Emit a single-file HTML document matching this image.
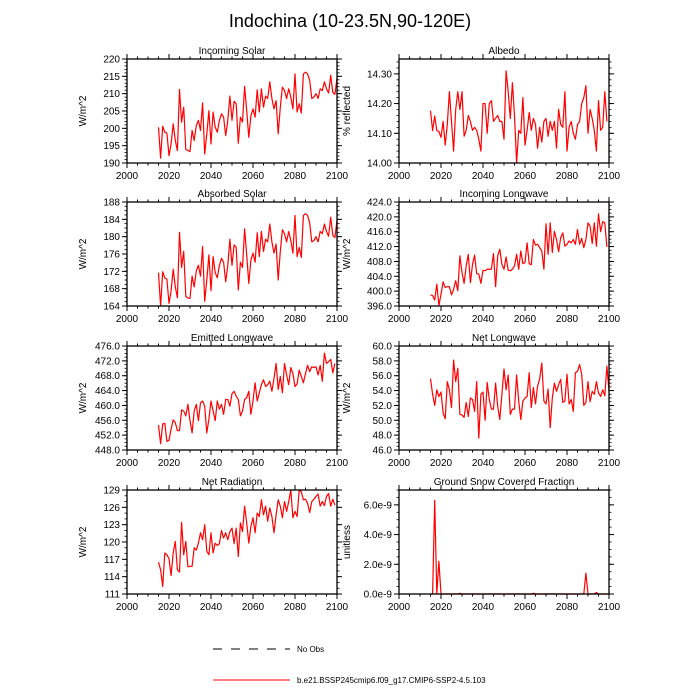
<!DOCTYPE html>
<html><head><meta charset="utf-8">
<style>
html,body{margin:0;padding:0;background:#fff;}
svg{display:block;font-family:"Liberation Sans",Arial,sans-serif;}
</style></head>
<body>
<svg id="chart" width="700" height="700" viewBox="0 0 700 700" xmlns="http://www.w3.org/2000/svg">
<text x="350" y="27" text-anchor="middle" font-size="18">Indochina (10-23.5N,90-120E)</text>
<g>
<line x1="213" y1="649" x2="290" y2="649" stroke="#000" stroke-width="1" stroke-dasharray="9,9"/>
<text x="297" y="652" font-size="8">No Obs</text>
<line x1="213" y1="680" x2="290" y2="680" stroke="#f00" stroke-width="1"/>
<text x="297" y="683" font-size="8">b.e21.BSSP245cmip6.f09_g17.CMIP6-SSP2-4.5.103</text>
</g>
</svg>
<script>
const startYear = 2015;
const xTicks = [2000,2020,2040,2060,2080,2100];
const incomingSolar = [200.3,191.4,200.6,198.9,198.6,192.1,195.5,201.3,196.5,193.6,211.2,201.8,206.1,193.9,193.6,193.3,199.4,196.5,200.8,202.3,199.4,207.3,192.6,198.4,205.1,195.5,204.7,200.3,198.9,202.3,204.2,203.2,197.9,202.3,209.3,202.3,207.8,207.1,195.7,203.2,201.8,212.1,205.1,197.4,203.7,205.6,203.2,211.1,204.7,211.4,206.1,209.3,208.6,213.4,208.6,205.6,208.0,198.4,206.1,211.9,210.9,208.6,211.4,209.0,205.6,215.7,204.7,207.1,204.4,215.7,216.2,215.7,213.8,208.6,209.0,210.0,208.6,211.4,210.9,213.4,211.4,210.2,215.3,210.4,209.8,214.5];
const albedo = [14.176,14.109,14.158,14.109,14.106,14.086,14.14,14.06,14.13,14.24,14.14,14.04,14.18,14.24,14.18,14.24,14.09,14.11,14.16,14.14,14.11,14.12,14.11,14.08,14.04,14.20,14.20,14.10,14.20,14.21,14.14,14.15,14.16,14.14,14.14,14.08,14.31,14.24,14.15,14.27,14.16,14.00,14.11,14.10,14.22,14.06,14.11,14.17,14.11,14.15,14.13,14.05,14.12,14.07,14.14,14.15,14.09,14.14,14.11,14.14,14.05,14.18,14.13,14.12,14.24,14.04,14.12,14.14,14.10,14.08,14.13,14.14,14.20,14.22,14.26,14.10,14.18,14.15,14.11,14.04,14.21,14.11,14.12,14.24,14.14];
const absorbedSolar = [171.7,164.0,171.9,170.5,170.2,164.6,167.5,172.5,168.4,165.9,181.0,172.9,176.6,166.2,165.9,165.7,170.9,168.4,172.1,173.4,170.9,177.7,165.1,170.0,175.8,167.5,175.4,171.7,170.5,173.4,175.0,174.1,169.6,173.4,179.4,173.4,178.1,177.5,167.7,174.1,172.9,181.8,175.8,169.2,174.6,176.2,174.1,180.9,175.4,181.2,176.6,179.4,178.8,182.9,178.8,176.2,178.3,170.0,176.6,181.6,180.7,178.8,181.2,179.1,176.2,184.9,175.4,177.5,175.2,184.9,185.3,184.9,183.2,178.8,179.1,180.0,178.8,181.2,180.7,182.9,181.2,180.1,184.5,180.3,179.8,183.8];
const incomingLW = [399.0,398.8,397.6,401.9,396.1,399.2,402.5,401.0,401.2,401.2,399.0,400.5,402.8,400.1,409.5,405.0,402.1,406.8,409.9,402.3,407.2,409.7,404.7,404.6,402.1,405.6,405.5,405.9,405.9,405.9,410.1,401.2,409.5,411.3,407.2,405.9,409.2,405.6,405.5,405.9,406.8,409.9,405.9,410.8,407.4,407.7,413.0,407.4,407.1,413.9,412.4,412.6,411.7,410.8,405.9,418.1,409.9,418.4,410.4,416.1,413.9,410.6,414.4,415.7,412.1,412.6,413.5,413.0,413.9,412.6,416.6,412.6,414.2,411.7,413.9,418.4,417.5,412.8,418.4,412.1,420.8,416.0,418.7,418.4,411.9];
const emittedLW = [454.7,449.7,455.0,455.2,450.3,450.6,453.7,456.1,455.4,453.2,453.2,458.8,458.5,457.2,460.3,455.9,452.6,458.5,460.3,455.9,460.7,461.2,459.8,452.6,456.3,461.2,458.5,455.9,461.2,459.0,460.3,457.6,461.6,461.6,459.8,463.2,463.8,462.5,461.6,457.2,458.5,461.6,462.1,463.8,457.6,461.2,466.1,461.2,463.4,465.6,466.9,465.1,465.6,466.5,463.8,467.3,471.3,464.3,467.8,463.4,471.3,468.2,465.6,470.2,468.6,465.1,465.8,469.5,467.8,466.1,468.6,470.8,469.1,470.4,470.2,470.4,468.2,470.8,466.5,474.1,471.3,471.8,472.4,468.8,471.3];
const netLW = [55.6,53.5,52.0,54.1,53.2,53.8,51.0,50.2,55.2,54.1,51.7,58.1,55.2,57.0,50.8,50.7,50.4,52.4,50.5,53.0,52.8,51.2,55.2,47.6,53.5,53.8,50.0,55.1,52.8,51.5,51.5,55.0,51.9,50.1,53.5,56.9,54.1,56.1,50.8,51.5,51.5,56.1,52.6,50.1,52.6,53.0,53.2,56.4,51.7,54.4,52.2,54.6,55.6,57.7,52.6,52.2,54.2,49.0,53.0,55.0,53.9,54.8,55.5,52.4,52.6,56.2,52.2,52.8,51.2,56.4,56.6,57.5,56.2,52.0,52.4,55.2,52.5,53.9,53.5,55.2,53.7,53.2,54.1,53.3,57.3,53.9];
const netRadiation = [116.5,115.2,112.3,118.1,117.8,117.1,114.2,118.1,120.1,115.2,114.8,123.4,117.8,120.1,115.7,115.8,115.8,119.0,118.6,119.8,121.6,120.4,123.0,118.4,117.8,121.6,118.1,119.8,119.4,119.7,122.0,120.7,121.6,120.4,121.8,122.4,119.7,122.4,117.5,123.3,121.8,126.2,123.3,119.8,122.7,124.2,121.6,125.0,124.4,127.3,124.7,126.2,123.6,125.9,124.4,121.6,124.7,127.3,126.2,124.2,127.0,125.3,127.0,129.0,124.2,125.3,124.4,129.0,128.7,127.3,127.4,126.7,125.1,127.0,127.4,127.9,128.3,126.2,127.0,126.3,127.9,128.4,126.2,127.4,126.4];
const snowFraction = [0,0,6.3e-9,0,2.2e-9,0,0,0,0,0,0,0,0,0,0.05e-9,0,0,0,0,0,0,0,0,0,0,0,0,0,0,0,0,0,0,0,0,0,0,0,0,0,0,0,0,0,0,0,0,0,0,0.05e-9,0,0,0,0,0,0,0,0,0,0,0,0,0,0,0,0,0,0,0,0,0,0,0,0,1.4e-9,0,0,0,0,0.1e-9,0,0,0,0,0,0];

const panels = [
 {name:'incoming-solar',title:'Incoming Solar',data:incomingSolar,x0:127,y0:59,ymin:190,ymax:220,ticks:[190,195,200,205,210,215,220],minor:1,fmt:v=>String(v),ytitle:'W/m^2',tx:86},
 {name:'albedo',title:'Albedo',data:albedo,x0:399,y0:59,ymin:14.0,ymax:14.35,ticks:[14.0,14.1,14.2,14.3],minor:0.02,fmt:v=>v.toFixed(2),ytitle:'% reflected',tx:350},
 {name:'absorbed-solar',title:'Absorbed Solar',data:absorbedSolar,x0:127,y0:202,ymin:164,ymax:188,ticks:[164,168,172,176,180,184,188],minor:1,fmt:v=>String(v),ytitle:'W/m^2',tx:86},
 {name:'incoming-longwave',title:'Incoming Longwave',data:incomingLW,x0:399,y0:202,ymin:396,ymax:424,ticks:[396,400,404,408,412,416,420,424],minor:1,fmt:v=>v.toFixed(1),ytitle:'W/m^2',tx:350},
 {name:'emitted-longwave',title:'Emitted Longwave',data:emittedLW,x0:127,y0:346,ymin:448,ymax:476,ticks:[448,452,456,460,464,468,472,476],minor:1,fmt:v=>v.toFixed(1),ytitle:'W/m^2',tx:86},
 {name:'net-longwave',title:'Net Longwave',data:netLW,x0:399,y0:346,ymin:46,ymax:60,ticks:[46,48,50,52,54,56,58,60],minor:0.5,fmt:v=>v.toFixed(1),ytitle:'W/m^2',tx:350},
 {name:'net-radiation',title:'Net Radiation',data:netRadiation,x0:127,y0:490,ymin:111,ymax:129,ticks:[111,114,117,120,123,126,129],minor:1,fmt:v=>String(v),ytitle:'W/m^2',tx:86},
 {name:'ground-snow',title:'Ground Snow Covered Fraction',data:snowFraction,x0:399,y0:490,ymin:0,ymax:7e-9,ticks:[0,2e-9,4e-9,6e-9],minor:0.5e-9,fmt:v=>(v*1e9).toFixed(1)+'e-9',ytitle:'unitless',tx:350}
];
const W=210,H=104;
const svg=document.getElementById('chart');
const NS='http://www.w3.org/2000/svg';
function mk(tag,attrs,parent){const e=document.createElementNS(NS,tag);for(const k in attrs)e.setAttribute(k,attrs[k]);parent.appendChild(e);return e;}
panels.forEach(p=>{
  const g=mk('g',{},svg);
  
  
  const xs=yr=>p.x0+(yr-2000)/100*W;
  const ys=v=>p.y0+H-(v-p.ymin)/(p.ymax-p.ymin)*H;
  // data line
  const pts=p.data.map((v,i)=>xs(startYear+i).toFixed(2)+','+ys(v).toFixed(2)).join(' ');
  const line=mk('polyline',{points:pts,fill:'none',stroke:'#f00','stroke-width':1.2,'stroke-linejoin':'round'},g);
  
  
  // frame
  const fr=mk('rect',{x:p.x0,y:p.y0,width:W,height:H,fill:'none',stroke:'#000','stroke-width':1.3},g);
  
  
  // x ticks
  for(let yr=2000;yr<=2100;yr+=5){
    const major=xTicks.includes(yr); const L=major?5:2.5; const x=xs(yr);
    mk('line',{x1:x,y1:p.y0+H,x2:x,y2:p.y0+H+L,stroke:'#000','stroke-width':1},g);
    mk('line',{x1:x,y1:p.y0,x2:x,y2:p.y0-L,stroke:'#000','stroke-width':1},g);
  }
  xTicks.forEach(yr=>{
    const t=mk('text',{x:xs(yr),y:p.y0+H+16,'text-anchor':'middle','font-size':10},g);
    t.textContent=yr;
    
    
  });
  // y minor ticks
  const n=Math.round((p.ymax-p.ymin)/p.minor);
  for(let i=0;i<=n;i++){
    const v=p.ymin+i*p.minor; const y=ys(v);
    mk('line',{x1:p.x0,y1:y,x2:p.x0-2.5,y2:y,stroke:'#000','stroke-width':0.8},g);
    mk('line',{x1:p.x0+W,y1:y,x2:p.x0+W+2.5,y2:y,stroke:'#000','stroke-width':0.8},g);
  }
  p.ticks.forEach(v=>{
    const y=ys(v);
    mk('line',{x1:p.x0,y1:y,x2:p.x0-5,y2:y,stroke:'#000','stroke-width':1},g);
    mk('line',{x1:p.x0+W,y1:y,x2:p.x0+W+5,y2:y,stroke:'#000','stroke-width':1},g);
    const t=mk('text',{x:p.x0-7,y:y+3.5,'text-anchor':'end','font-size':10},g);
    t.textContent=p.fmt(v);
    
    
  });
  const ti=mk('text',{x:p.x0+W/2,y:p.y0-5,'text-anchor':'middle','font-size':10},g);
  ti.textContent=p.title;
  
  
  const cy=p.y0+H/2;
  const yt=mk('text',{x:p.tx,y:cy,'text-anchor':'middle','font-size':10,transform:'rotate(-90 '+p.tx+' '+cy+')'},g);
  yt.textContent=p.ytitle;
  
  
});
</script>
</body></html>
